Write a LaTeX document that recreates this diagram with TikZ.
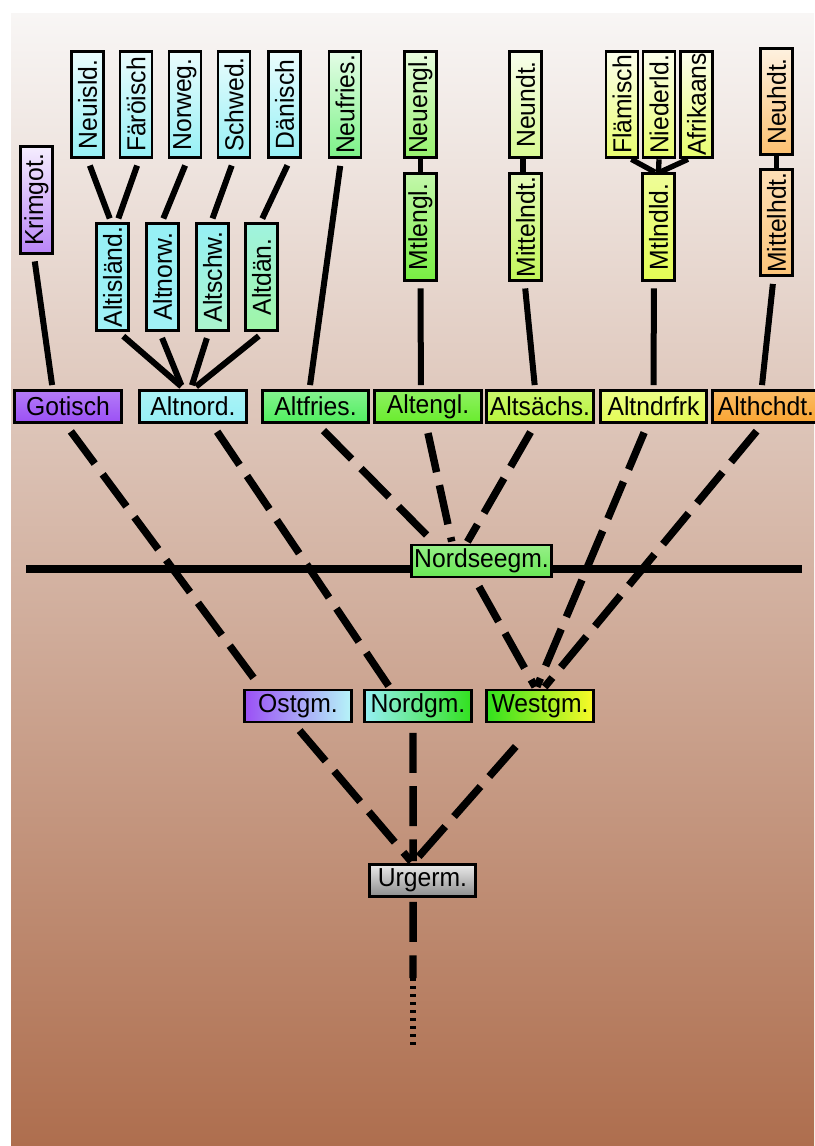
\documentclass[tikz,border=0pt]{standalone}
\usepackage{fontspec}
\setmainfont[FakeStretch=0.95]{Liberation Sans}
\usepackage{graphicx}
\usepackage{tikz}

\definecolor{bgtop}{RGB}{248,246,245}
\definecolor{bgbottom}{RGB}{174,110,78}
\definecolor{gotpurple}{RGB}{155,80,245}
\definecolor{nordcyan}{RGB}{150,240,245}
\definecolor{friesgreen}{RGB}{80,238,95}
\definecolor{englgreen}{RGB}{105,236,45}
\definecolor{saxgreen}{RGB}{185,245,60}
\definecolor{frankyellow}{RGB}{228,252,85}
\definecolor{hdtorange}{RGB}{250,165,50}
\definecolor{seegreen}{RGB}{105,232,85}
\definecolor{westgreen}{RGB}{50,225,30}
\definecolor{westyellow}{RGB}{250,250,40}

\begin{document}
\begin{tikzpicture}[x=0.75pt, y=-0.75pt,
    lang/.style={draw=black, line width=2.2pt, inner sep=0pt, text=black,
        font=\fontsize{19.5}{21}\selectfont},
    hlang/.style={lang, minimum width=80pt, minimum height=24pt},
    vlang/.style={lang, minimum width=24pt, minimum height=80pt},
    branch/.style={line width=4.5pt, shorten <=5pt, shorten >=3pt},
    stubline/.style={line width=4pt},
    dashbranch/.style={line width=5.6pt, dash pattern=on 30pt off 10pt,
        shorten <=7pt, shorten >=1.5pt},
    dotbranch/.style={line width=3.8pt, dash pattern=on 2.5pt off 3.5pt}]
    \useasboundingbox (0,0) rectangle (814,1146);
    \fill[white] (0,0) rectangle (814,1146);
    \shade[top color=bgtop, bottom color=bgbottom] (11,13) rectangle (814,1146);

    % Nordseelinie
    \coordinate (sea west) at (26,569);
    \coordinate (sea east) at (802,569);
    \draw[line width=5.3pt] (sea west) -- (sea east);

    % Neuere Sprachen
    \node[vlang, top color=gotpurple!10!white, bottom color=gotpurple!70!white] (krimgot) at (36.5,200) {\rotatebox{90}{Krimgot.}};
    \node[vlang, top color=nordcyan!20!white, bottom color=nordcyan] (neuisld) at (87.5,104.5) {\rotatebox{90}{Neuisld.}};
    \node[vlang, top color=nordcyan!20!white, bottom color=nordcyan] (faroisch) at (136,104.5) {\rotatebox{90}{Färöisch}};
    \node[vlang, top color=nordcyan!20!white, bottom color=nordcyan] (norweg) at (185,104.5) {\rotatebox{90}{Norweg.}};
    \node[vlang, top color=nordcyan!20!white, bottom color=nordcyan] (schwed) at (234,104.5) {\rotatebox{90}{Schwed.}};
    \node[vlang, top color=nordcyan!20!white, bottom color=nordcyan] (danisch) at (284.5,104.5) {\rotatebox{90}{Dänisch}};
    \node[vlang, top color=friesgreen!15!white, bottom color=friesgreen!75!white] (neufries) at (345,104.5) {\rotatebox{90}{Neufries.}};
    \node[vlang, top color=englgreen!15!white, bottom color=englgreen!70!white] (neuengl) at (420.5,104.5) {\rotatebox{90}{Neuengl.}};
    \node[vlang, top color=saxgreen!10!white, bottom color=saxgreen!55!white] (neundt) at (525.5,104.5) {\rotatebox{90}{Neundt.}};
    \node[vlang, top color=frankyellow!10!white, bottom color=frankyellow!85!white] (flamisch) at (622,104.5) {\rotatebox{90}{Flämisch}};
    \node[vlang, top color=frankyellow!10!white, bottom color=frankyellow!85!white] (niederld) at (659,104.5) {\rotatebox{90}{Niederld.}};
    \node[vlang, top color=frankyellow!10!white, bottom color=frankyellow!85!white] (afrikaans) at (696.5,104.5) {\rotatebox{90}{Afrikaans}};
    \node[vlang, top color=hdtorange!15!white, bottom color=hdtorange!70!white] (neuhdt) at (776.5,101.5) {\rotatebox{90}{Neuhdt.}};

    % Mittlere Stufen
    \node[vlang, top color=nordcyan, bottom color=nordcyan!90!white] (altisland) at (112.5,277) {\rotatebox{90}{Altisländ.}};
    \node[vlang, top color=nordcyan, bottom color=nordcyan!90!white] (altnorw) at (162.5,277) {\rotatebox{90}{Altnorw.}};
    \node[vlang, top color=nordcyan, bottom color=nordcyan!50!friesgreen!60!white] (altschw) at (212.5,277) {\rotatebox{90}{Altschw.}};
    \node[vlang, top color=nordcyan!80!friesgreen!80!white, bottom color=friesgreen!55!white] (altdan) at (261.5,277) {\rotatebox{90}{Altdän.}};
    \node[vlang, top color=englgreen!40!white, bottom color=englgreen!90!white] (mtlengl) at (420.5,227) {\rotatebox{90}{Mtlengl.}};
    \node[vlang, top color=saxgreen!35!white, bottom color=saxgreen!85!white] (mittelndt) at (525.5,227) {\rotatebox{90}{Mittelndt.}};
    \node[vlang, top color=frankyellow!60!white, bottom color=frankyellow] (mtlndld) at (658.5,227) {\rotatebox{90}{Mtlndld.}};
    \node[vlang, top color=hdtorange!35!white, bottom color=hdtorange!65!white] (mittelhdt) at (776.5,222.5) {\rotatebox{90}{Mittelhdt.}};

    % Alte Sprachen
    \node[hlang, top color=gotpurple!75!white, bottom color=gotpurple] (gotisch) at (68,406.5) {Gotisch};
    \node[hlang, top color=nordcyan!80!white, bottom color=nordcyan] (altnord) at (193,406.5) {Altnord.};
    \node[hlang, top color=friesgreen!70!white, bottom color=friesgreen] (altfries) at (315.5,406.5) {Altfries.};
    \node[hlang, top color=englgreen!75!white, bottom color=englgreen] (altengl) at (428,406.5) {Altengl.};
    \node[hlang, top color=saxgreen!75!white, bottom color=saxgreen] (altsachs) at (540,406.5) {Altsächs.};
    \node[hlang, top color=frankyellow!70!white, bottom color=frankyellow] (altndrfrk) at (653.5,406.5) {Altndrfrk};
    \node[hlang, top color=hdtorange!75!white, bottom color=hdtorange] (althchdt) at (766,406.5) {Althchdt.};

    % Gruppen
    \node[hlang, minimum width=105pt, top color=seegreen!70!white, bottom color=seegreen] (nordseegm) at (481.5,561) {Nordseegm.};
    \node[hlang, left color=gotpurple, right color=nordcyan!70!white] (ostgm) at (298,706) {Ostgm.};
    \node[hlang, left color=nordcyan, right color=westgreen] (nordgm) at (418,706) {Nordgm.};
    \node[hlang, left color=westgreen, right color=westyellow] (westgm) at (540,706) {Westgm.};
    \node[hlang, top color=black!8, bottom color=black!45] (urgerm) at (422.5,880.5) {Urgerm.};

    % Verbindungen oben
    \draw[branch] ([xshift=-2pt]krimgot.south) -- ([xshift=-11.5pt]gotisch.north);
    \draw[branch] (neuisld.south) -- ([xshift=-1pt]altisland.north);
    \draw[branch] ([xshift=2.5pt]faroisch.south) -- ([xshift=3.4pt]altisland.north);
    \draw[branch] ([xshift=2pt]norweg.south) -- ([xshift=-0.5pt]altnorw.north);
    \draw[branch] (schwed.south) -- ([xshift=-1pt]altschw.north);
    \draw[branch] ([xshift=4.3pt]danisch.south) -- ([xshift=-0.7pt]altdan.north);
    \draw[branch] ([xshift=-2.9pt]neufries.south) -- ([xshift=-4.5pt]altfries.north);
    \draw[branch] ([xshift=4.3pt]altisland.south) -- ([xshift=-6.5pt]altnord.north);
    \draw[branch] ([xshift=-2.2pt]altnorw.south) -- ([xshift=-7.6pt]altnord.north);
    \draw[branch] ([xshift=-2.7pt]altschw.south) -- ([xshift=-1.7pt]altnord.north);
    \draw[branch] ([xshift=1.9pt]altdan.south) -- (altnord.north);
    \draw[stubline] (neuengl.south) -- (mtlengl.north);
    \draw[branch] (mtlengl.south) -- ([xshift=-5.3pt]altengl.north);
    \draw[stubline] ([xshift=-2pt]neundt.south) -- ([xshift=-2pt]mittelndt.north);
    \draw[branch] ([xshift=-0.7pt]mittelndt.south) -- ([xshift=-3.7pt]altsachs.north);
    \draw[stubline] ([xshift=7pt]flamisch.south) -- ([xshift=-2.6pt]mtlndld.north);
    \draw[stubline] (niederld.south) -- (mtlndld.north);
    \draw[stubline] ([xshift=-6.4pt]afrikaans.south) -- ([xshift=1pt]mtlndld.north);
    \draw[branch] ([xshift=-3.4pt]mtlndld.south) -- (altndrfrk.north);
    \draw[stubline] (neuhdt.south) -- (mittelhdt.north);
    \draw[branch] ([xshift=-2.2pt]mittelhdt.south) -- ([xshift=-3.3pt]althchdt.north);

    % Verbindungen unten
    \draw[dashbranch] ([xshift=-2pt]gotisch.south) -- ([xshift=-27.4pt]ostgm.north);
    \draw[dashbranch] ([xshift=14.2pt]altnord.south) -- ([xshift=-20.7pt]nordgm.north);
    \draw[dashbranch] ([xshift=1.1pt]altfries.south) -- ([xshift=-34.9pt]nordseegm.north);
    \draw[dashbranch] ([xshift=-1.5pt]altengl.south) -- ([xshift=-22pt]nordseegm.north);
    \draw[dashbranch] ([xshift=-3.6pt]altsachs.south) -- ([xshift=-11.3pt]nordseegm.north);
    \draw[dashbranch] ([xshift=-5.3pt]nordseegm.south) -- ([xshift=-3pt]westgm.north);
    \draw[dashbranch] ([xshift=-4.3pt]altndrfrk.south) -- ([xshift=-2.9pt]westgm.north);
    \draw[dashbranch] ([xshift=-2.6pt]althchdt.south) -- ([xshift=2.5pt]westgm.north);
    \draw[dashbranch] ([xshift=-3.3pt]ostgm.south) -- ([xshift=-7.5pt]urgerm.north);
    \draw[dashbranch] ([xshift=-3.75pt]nordgm.south) -- ([xshift=-7.1pt]urgerm.north);
    \draw[dashbranch, shorten <=23pt] ([xshift=-3pt]westgm.south) -- ([xshift=-7.1pt]urgerm.north);

    % Wurzel
    \coordinate (stem) at (413,978);
    \coordinate (root) at (413,1049);
    \draw[dashbranch, shorten <=3pt, shorten >=0pt] ([xshift=-7.1pt]urgerm.south) -- (stem);
    \draw[dotbranch] (stem) -- (root);
\end{tikzpicture}
\end{document}
